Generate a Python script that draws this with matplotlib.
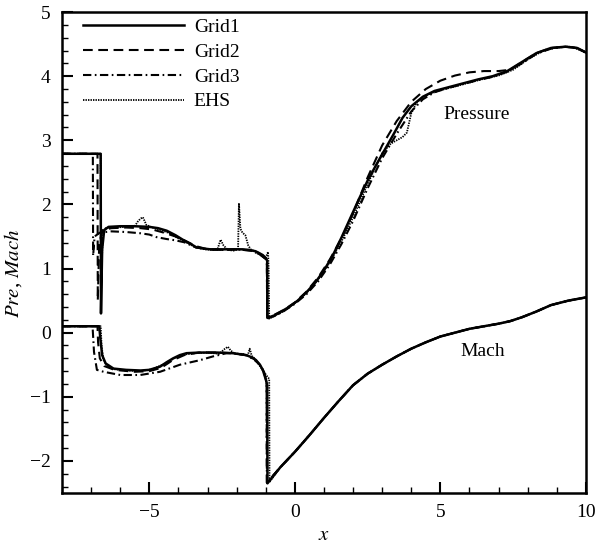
import matplotlib
matplotlib.use("Agg")
import matplotlib.pyplot as plt
from matplotlib.ticker import MultipleLocator

plt.rcParams['font.family'] = ['Liberation Serif', 'DejaVu Serif']
plt.rcParams['mathtext.fontset'] = 'stix'
plt.rcParams['lines.scale_dashes'] = False

# --- pressure distributions ---
p1_x = [-8, -6.67, -6.66, -6.62, -6.55, -6.4, -6.0, -5.5, -5.0, -4.7, -4.4, -4.1, -3.85, -3.6,
        -3.38, -3.1, -2.9, -2.5, -2.13, -1.8, -1.56, -1.35, -1.22, -1.1, -0.99, -0.95, -0.94,
        -0.7, -0.5, -0.2, 0.1, 0.4, 0.7, 1.0, 1.3, 1.6, 1.9, 2.2, 2.5, 2.8, 3.1, 3.4, 3.7, 4.0,
        4.4, 4.8, 5.3, 5.8, 6.3, 6.8, 7.3, 7.8, 8.3, 8.8, 9.3, 9.7, 10.0]
p1_y = [2.79, 2.79, 0.3, 1.3, 1.6, 1.65, 1.66, 1.66, 1.65, 1.63, 1.59, 1.52, 1.45, 1.39,
        1.33, 1.31, 1.30, 1.30, 1.30, 1.30, 1.29, 1.27, 1.24, 1.21, 1.16, 1.12, 0.23,
        0.27, 0.32, 0.40, 0.50, 0.63, 0.78, 0.97, 1.20, 1.48, 1.78, 2.08, 2.37, 2.62, 2.86, 3.10,
        3.35, 3.53, 3.68, 3.77, 3.83, 3.89, 3.95, 4.00, 4.08, 4.22, 4.36, 4.44, 4.46, 4.44, 4.37]

p2_x = [-8, -6.78, -6.77, -6.72, -6.6, -6.3, -5.8, -5.3, -4.9, -4.5, -4.1, -3.8, -3.4, -3.0,
        -2.5, -2.0, -1.5, -1.2, -1.0, -0.96, -0.95, -0.7, -0.4, 0.0, 0.4, 0.8, 1.2, 1.6, 2.0,
        2.5, 3.0, 3.5, 4.0, 4.5, 5.0, 5.5, 6.0, 6.5, 7.0, 7.4, 7.8, 8.3, 8.8, 9.3, 9.7, 10.0]
p2_y = [2.79, 2.79, 0.5, 1.4, 1.6, 1.63, 1.64, 1.63, 1.61, 1.56, 1.5, 1.44, 1.35, 1.3,
        1.29, 1.3, 1.28, 1.22, 1.15, 1.1, 0.24, 0.28, 0.35, 0.47, 0.64, 0.86, 1.14, 1.47, 1.86,
        2.42, 2.92, 3.3, 3.6, 3.8, 3.93, 4.01, 4.06, 4.08, 4.08, 4.1, 4.22, 4.36, 4.44, 4.46, 4.44, 4.37]

p3_x = [-8, -6.94, -6.93, -6.88, -6.7, -6.3, -5.8, -5.3, -5.0, -4.75, -4.4, -4.1, -3.8, -3.4,
        -3.0, -2.5, -2.0, -1.5, -1.2, -1.0, -0.96, -0.95, -0.7, -0.4, 0.0, 0.4, 0.8, 1.2, 1.6,
        2.0, 2.5, 3.0, 3.5, 4.0, 4.4, 4.8, 5.3, 5.8, 6.3, 6.8, 7.3, 7.8, 8.3, 8.8, 9.3, 9.7, 10.0]
p3_y = [2.79, 2.79, 1.2, 1.5, 1.56, 1.58, 1.57, 1.55, 1.53, 1.49, 1.46, 1.44, 1.41, 1.33,
        1.3, 1.29, 1.3, 1.28, 1.22, 1.15, 1.1, 0.22, 0.26, 0.33, 0.45, 0.6, 0.8, 1.06, 1.38,
        1.74, 2.25, 2.72, 3.1, 3.45, 3.64, 3.75, 3.82, 3.88, 3.94, 3.99, 4.07, 4.2, 4.35, 4.43, 4.46, 4.44, 4.37]

ehs_p_x = [-8, -6.67, -6.66, -6.6, -6.5, -6.2, -5.8, -5.5, -5.4, -5.3, -5.22, -5.1, -4.9, -4.6,
           -4.3, -4.0, -3.7, -3.4, -3.1, -2.8, -2.65, -2.55, -2.45, -2.3, -2.1, -1.95, -1.92,
           -1.87, -1.8, -1.7, -1.6, -1.5, -1.3, -1.1, -1.0, -0.92, -0.9, -0.88, -0.7, -0.4, 0.0,
           0.4, 0.8, 1.2, 1.6, 2.0, 2.5, 3.0, 3.3, 3.5, 3.7, 3.85, 4.0, 4.2, 4.6, 5.0, 5.5, 6.0,
           6.5, 7.0, 7.5, 8.0, 8.5, 9.0, 9.5, 10.0]
ehs_p_y = [2.79, 2.79, 0.6, 1.55, 1.63, 1.64, 1.65, 1.66, 1.73, 1.78, 1.8, 1.68, 1.64, 1.6,
           1.55, 1.47, 1.4, 1.33, 1.3, 1.29, 1.31, 1.45, 1.36, 1.29, 1.28, 1.3, 2.02,
           1.62, 1.56, 1.52, 1.36, 1.29, 1.26, 1.2, 1.17, 1.26, 1.0, 0.22, 0.26, 0.33, 0.46,
           0.62, 0.83, 1.1, 1.42, 1.8, 2.32, 2.8, 2.95, 3.0, 3.05, 3.12, 3.42, 3.6, 3.72, 3.78, 3.84, 3.9,
           3.96, 4.01, 4.1, 4.26, 4.39, 4.45, 4.46, 4.37]

# --- Mach number distributions ---
m1_x = [-8, -6.72, -6.68, -6.62, -6.5, -6.23, -5.8, -5.3, -5.0, -4.63, -4.4, -4.18, -3.95, -3.72,
        -3.27, -2.7, -2.13, -1.67, -1.45, -1.33, -1.2, -1.1, -0.99, -0.95, -0.94, -0.5, 0.0, 0.5,
        1.0, 1.5, 2.0, 2.5, 3.0, 3.5, 4.0, 4.5, 5.0, 5.5, 6.0, 6.5, 7.0, 7.4, 7.8, 8.3, 8.8, 9.4, 10.0]
m1_y = [0.1, 0.1, -0.1, -0.35, -0.48, -0.56, -0.58, -0.59, -0.58, -0.53, -0.46, -0.4, -0.35, -0.32,
        -0.31, -0.31, -0.32, -0.35, -0.39, -0.43, -0.5, -0.58, -0.74, -0.82, -2.35, -2.1, -1.86, -1.6,
        -1.33, -1.07, -0.82, -0.64, -0.5, -0.37, -0.25, -0.15, -0.06, 0.0, 0.06, 0.1, 0.14, 0.18, 0.24,
        0.33, 0.43, 0.5, 0.55]

m2_x = [-8, -6.78, -6.76, -6.7, -6.55, -6.2, -5.5, -5.0, -4.6, -4.2, -3.8, -3.3, -2.7, -2.1,
        -1.7, -1.4, -1.2, -1.05, -0.97, -0.96, -0.5, 0.0, 0.5, 1.0, 1.5, 2.0, 2.5, 3.0, 3.5, 4.0,
        4.5, 5.0, 5.5, 6.0, 6.5, 7.0, 7.4, 7.8, 8.3, 8.8, 9.4, 10.0]
m2_y = [0.1, 0.1, -0.15, -0.4, -0.52, -0.58, -0.61, -0.6, -0.55, -0.43, -0.35, -0.31, -0.31, -0.32,
        -0.35, -0.41, -0.5, -0.62, -0.78, -2.34, -2.1, -1.86, -1.6, -1.33, -1.07, -0.82, -0.64, -0.5,
        -0.37, -0.25, -0.15, -0.06, 0.0, 0.06, 0.1, 0.14, 0.18, 0.24, 0.33, 0.43, 0.5, 0.55]

m3_x = [-8, -6.95, -6.9, -6.8, -6.57, -6.0, -5.31, -4.63, -3.95, -3.27, -2.81, -2.35, -2.13,
        -1.67, -1.4, -1.2, -1.05, -0.97, -0.96, -0.5, 0.0, 0.5, 1.0, 1.5, 2.0, 2.5, 3.0, 3.5, 4.0,
        4.5, 5.0, 5.5, 6.0, 6.5, 7.0, 7.4, 7.8, 8.3, 8.8, 9.4, 10.0]
m3_y = [0.1, 0.1, -0.3, -0.58, -0.61, -0.66, -0.66, -0.61, -0.5, -0.43, -0.37, -0.32, -0.32,
        -0.35, -0.42, -0.5, -0.62, -0.78, -2.34, -2.1, -1.86, -1.6, -1.33, -1.07, -0.82, -0.64, -0.5,
        -0.37, -0.25, -0.15, -0.06, 0.0, 0.06, 0.1, 0.14, 0.18, 0.24, 0.33, 0.43, 0.5, 0.55]

ehs_m_x = [-8, -6.67, -6.64, -6.58, -6.45, -6.2, -5.8, -5.3, -4.9, -4.5, -4.1, -3.8, -3.4,
           -3.0, -2.6, -2.4, -2.3, -2.2, -2.05, -1.8, -1.62, -1.55, -1.48, -1.35, -1.2, -1.05,
           -0.92, -0.88, -0.87, -0.5, 0.0, 0.5, 1.0, 1.5, 2.0, 2.5, 3.0, 3.5, 4.0, 4.5, 5.0, 5.5,
           6.0, 6.5, 7.0, 7.4, 7.8, 8.3, 8.8, 9.4, 10.0]
ehs_m_y = [0.1, 0.1, -0.2, -0.42, -0.52, -0.57, -0.59, -0.6, -0.57, -0.49, -0.39, -0.34, -0.32,
           -0.31, -0.33, -0.25, -0.22, -0.28, -0.33, -0.33, -0.36, -0.25, -0.36, -0.42, -0.52, -0.62,
           -0.7, -0.72, -2.33, -2.1, -1.86, -1.6, -1.33, -1.07, -0.82, -0.64, -0.5, -0.37, -0.25,
           -0.15, -0.06, 0.0, 0.06, 0.1, 0.14, 0.18, 0.24, 0.33, 0.43, 0.5, 0.55]

labels = ['Grid1', 'Grid2', 'Grid3', 'EHS']

fig = plt.figure(figsize=(5.96, 5.44), dpi=100)
ax = fig.add_axes([0.104, 0.0938, 0.879, 0.884])

styles = [
    dict(linestyle='-', lw=1.8),
    dict(linestyle=(0, (7, 4)), lw=1.5),
    dict(linestyle=(0, (6, 2.5, 1.2, 2.5)), lw=1.5),
    dict(linestyle=(0, (1, 0.8)), lw=1.3),
]

pressure = [(p1_x, p1_y), (p2_x, p2_y), (p3_x, p3_y), (ehs_p_x, ehs_p_y)]
mach = [(m1_x, m1_y), (m2_x, m2_y), (m3_x, m3_y), (ehs_m_x, ehs_m_y)]

# draw EHS first so the grid solutions sit on top
for i in [3, 2, 1, 0]:
    px, py = pressure[i]
    mx, my = mach[i]
    ax.plot(px, py, color='black', label=labels[i], **styles[i])
    ax.plot(mx, my, color='black', **styles[i])

handles, labs = ax.get_legend_handles_labels()
order = [labs.index(l) for l in labels]
ax.legend([handles[k] for k in order], labels, loc='upper left',
          bbox_to_anchor=(0.04, 0.987), frameon=False, fontsize=14,
          handlelength=5.2, handletextpad=0.5, labelspacing=0.37,
          borderpad=0, borderaxespad=0)

ax.text(6.26, 3.4, 'Pressure', fontsize=14, ha='center', va='center')
ax.text(6.45, -0.3, 'Mach', fontsize=14, ha='center', va='center')

ax.set_xlim(-8, 10)
ax.set_ylim(-2.5, 5)
ax.xaxis.set_major_locator(MultipleLocator(5))
ax.xaxis.set_minor_locator(MultipleLocator(1))
ax.yaxis.set_major_locator(MultipleLocator(1))
ax.yaxis.set_minor_locator(MultipleLocator(0.2))
ax.tick_params(which='both', direction='in', top=False, right=False, labelsize=14, pad=8)
ax.tick_params(which='major', length=8, width=1.5)
ax.tick_params(which='minor', length=4.5, width=1.0)
for s in ax.spines.values():
    s.set_linewidth(1.8)

ax.set_xlabel('$x$', fontsize=15)
ax.set_ylabel('$Pre$, $Mach$', fontsize=15)
ax.xaxis.set_label_coords(0.5, -0.068)
ax.yaxis.set_label_coords(-0.072, 0.457)

fig.savefig('out.png', dpi=100)
